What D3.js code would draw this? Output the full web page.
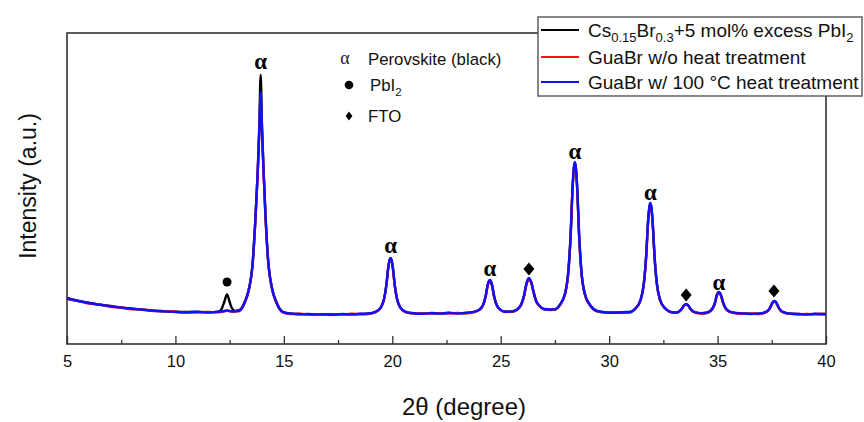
<!DOCTYPE html>
<html>
<head>
<meta charset="utf-8">
<script src="https://cdn.jsdelivr.net/npm/d3@7"></script>
<style>
  html, body { margin: 0; padding: 0; background: #fff; }
  svg { display: block; font-family: "Liberation Sans", Arial, sans-serif; }
</style>
</head>
<body>
<svg id="chart" width="864" height="422"></svg>
<script>
// ---------- DATA ----------
const twoTheta = [
  5, 5.5, 6, 6.5, 7, 7.5, 8, 8.5, 9, 9.5, 10, 10.5, 11, 11.5, 12,
  12.15, 12.25, 12.38, 12.5, 12.6, 12.75,
  12.95, 13.2, 13.4, 13.55, 13.7, 13.8, 13.87, 13.93, 13.99, 14.06, 14.15, 14.28, 14.45, 14.65, 14.95,
  15.3, 15.7, 16.1, 16.5, 16.9, 17.3, 17.7, 18.1, 18.5, 18.9,
  19.22, 19.47, 19.62, 19.72, 19.82, 19.87, 19.92, 19.97, 20.02, 20.12, 20.22, 20.37, 20.62,
  21.0, 21.4, 21.8, 22.2, 22.6, 23.0, 23.4,
  23.8, 24.05, 24.2, 24.3, 24.4, 24.45, 24.5, 24.55, 24.6, 24.7, 24.8, 24.95, 25.2,
  25.5, 25.75, 25.95, 26.08, 26.18, 26.25, 26.3, 26.35, 26.42, 26.52, 26.62, 26.78, 27.0,
  27.3, 27.55,
  27.72, 27.97, 28.12, 28.22, 28.32, 28.37, 28.42, 28.47, 28.52, 28.62, 28.72, 28.87, 29.12,
  29.45, 29.8, 30.2, 30.6, 31.0,
  31.2, 31.45, 31.6, 31.7, 31.8, 31.85, 31.9, 31.95, 32.0, 32.1, 32.2, 32.35, 32.6,
  32.9,
  33.1, 33.25, 33.35, 33.45, 33.5, 33.55, 33.6, 33.65, 33.75, 33.85, 34.0, 34.25,
  34.45, 34.66, 34.78, 34.88, 34.96, 35.01, 35.06, 35.11, 35.16, 35.26, 35.36, 35.51, 35.76,
  36.1, 36.5, 36.9,
  37.17, 37.32, 37.42, 37.52, 37.57, 37.62, 37.67, 37.72, 37.82, 37.92, 38.07, 38.32,
  38.7, 39.1, 39.5, 39.8, 40
];
const blackI = [
  462, 434, 412, 394, 380, 364, 354, 344, 334, 328, 322, 320, 320, 318, 324,
  360, 420, 495, 420, 360, 330,
  338, 422, 562, 782, 1305, 1760, 2200, 2690, 2200, 1760, 1305, 822, 562, 422, 322,
  304, 300, 298, 296, 296, 294, 298, 298, 300, 304,
  320, 365, 450, 578, 774, 836, 858, 836, 774, 578, 450, 365, 320,
  306, 304, 308, 306, 310, 308, 310,
  322, 348, 397, 472, 588, 624, 636, 624, 588, 472, 397, 348, 322,
  324, 342, 396, 485, 594, 640, 655, 643, 606, 515, 436, 382, 348,
  342, 350,
  388, 505, 728, 1068, 1588, 1750, 1810, 1750, 1588, 1068, 728, 505, 388,
  328, 316, 314, 316, 320,
  352, 440, 603, 855, 1238, 1358, 1402, 1358, 1238, 855, 603, 440, 352,
  316,
  314, 328, 350, 383, 393, 397, 393, 383, 350, 328, 314, 308,
  310, 328, 360, 410, 484, 507, 516, 507, 484, 410, 360, 328, 312,
  304, 302, 302,
  314, 332, 362, 407, 421, 426, 421, 407, 362, 332, 314, 304,
  300, 298, 300, 300, 300
];
const redI = [
  450, 432, 405, 395, 372, 365, 348, 346, 330, 328, 324, 314, 318, 320, 318,
  322, 326, 332, 328, 322, 324,
  330, 412, 552, 770, 1285, 1735, 2130, 2470, 2130, 1735, 1285, 810, 552, 414, 316,
  300, 302, 294, 298, 292, 298, 296, 302, 298, 300,
  318, 362, 445, 572, 765, 828, 850, 828, 765, 572, 445, 362, 318,
  304, 306, 306, 308, 306, 310, 308,
  320, 346, 394, 468, 582, 618, 630, 618, 582, 468, 394, 346, 320,
  322, 340, 392, 480, 588, 632, 648, 636, 600, 510, 432, 380, 346,
  340, 348,
  385, 500, 720, 1058, 1572, 1732, 1790, 1732, 1572, 1058, 720, 500, 385,
  326, 314, 316, 314, 318,
  350, 436, 598, 846, 1225, 1344, 1388, 1344, 1225, 846, 598, 436, 350,
  314,
  312, 326, 348, 380, 390, 394, 390, 380, 348, 326, 312, 306,
  308, 326, 357, 406, 480, 503, 512, 503, 480, 406, 357, 326, 310,
  302, 304, 300,
  312, 330, 360, 404, 418, 423, 418, 404, 360, 330, 312, 302,
  298, 300, 296, 302, 298
];
const blueI = [
  455, 430, 410, 392, 378, 362, 352, 342, 332, 326, 320, 318, 322, 316, 322,
  326, 330, 336, 330, 326, 328,
  335, 420, 560, 780, 1300, 1750, 2150, 2520, 2150, 1750, 1300, 820, 560, 420, 320,
  305, 298, 300, 294, 298, 292, 300, 296, 302, 305,
  322, 367, 451, 580, 776, 838, 860, 838, 776, 580, 451, 367, 322,
  308, 302, 310, 304, 312, 306, 312,
  323, 350, 399, 475, 591, 627, 640, 627, 591, 475, 399, 350, 323,
  325, 345, 400, 490, 600, 645, 660, 648, 612, 520, 440, 385, 350,
  345, 352,
  390, 509, 732, 1075, 1597, 1760, 1820, 1760, 1597, 1075, 732, 509, 390,
  330, 318, 312, 318, 322,
  354, 442, 607, 860, 1245, 1366, 1410, 1366, 1245, 860, 607, 442, 354,
  318,
  316, 331, 353, 386, 396, 400, 396, 386, 353, 331, 316, 309,
  312, 331, 363, 413, 488, 511, 520, 511, 488, 413, 363, 331, 314,
  306, 300, 304,
  316, 335, 365, 410, 425, 430, 425, 410, 365, 335, 316, 305,
  300, 296, 302, 298, 300
];

// peak markers
const markTheta = [12.38, 13.93, 19.92, 24.5, 26.3, 28.42, 31.9, 33.55, 35.06, 37.6];
const markIntensity = [620, 2810, 970, 740, 750, 1910, 1500, 490, 600, 530];
const markPhase = ["PbI2", "alpha", "alpha", "alpha", "FTO", "alpha", "alpha", "FTO", "alpha", "FTO"];

const xTicks = [5, 10, 15, 20, 25, 30, 35, 40];
const xMinorTicks = [7.5, 12.5, 17.5, 22.5, 27.5, 32.5, 37.5];

const seriesNames = ["Cs0.15Br0.3+5 mol% excess PbI2", "GuaBr w/o heat treatment", "GuaBr w/ 100 °C heat treatment"];
const seriesColors = ["#000000", "#ff1010", "#1010ff"];

// ---------- DRAWING ----------
const SANS = "Liberation Sans, Arial, sans-serif";
const SERIF = "Liberation Serif, Times New Roman, serif";
const svg = d3.select("#chart");
svg.append("rect").attr("width", 864).attr("height", 422).attr("fill", "#fff");

const L = 67, R = 826, T = 33, B = 344;
const x = d3.scaleLinear().domain([5, 40]).range([L, R]);
const y = d3.scaleLinear().domain([0, 3110]).range([B, T]);

const series = [blackI, redI, blueI];
const line = d3.line().x(d => x(d[0])).y(d => y(d[1])).curve(d3.curveMonotoneX);

series.forEach((vals, i) => {
  const pts = d3.zip(twoTheta, vals);
  svg.append("path")
    .datum(pts)
    .attr("fill", "none")
    .attr("stroke", seriesColors[i])
    .attr("stroke-width", 2.4)
    .attr("stroke-linejoin", "round")
    .attr("d", line);
});

// frame
svg.append("rect").attr("x", L).attr("y", T).attr("width", R - L).attr("height", B - T)
  .attr("fill", "none").attr("stroke", "#333").attr("stroke-width", 1.6);

// x axis (ticks inside)
const xAxis = svg.append("g").attr("transform", `translate(0,${B})`)
  .call(d3.axisBottom(x).tickValues(xTicks).tickSizeInner(-8).tickSizeOuter(0).tickPadding(11).tickFormat(d3.format("d")));
xAxis.select(".domain").remove();
xAxis.selectAll("line").attr("stroke", "#333").attr("stroke-width", 1.3);
xAxis.selectAll("text").style("font-size", "16.5px").style("font-family", SANS).attr("fill", "#111");

const xMinor = svg.append("g").attr("transform", `translate(0,${B})`)
  .call(d3.axisBottom(x).tickValues(xMinorTicks).tickSizeInner(-4).tickSizeOuter(0).tickFormat(""));
xMinor.select(".domain").remove();
xMinor.selectAll("line").attr("stroke", "#333").attr("stroke-width", 1.3);

// axis titles
svg.append("text").attr("x", 464).attr("y", 415).attr("text-anchor", "middle")
  .style("font-size", "24px").style("font-family", SANS).attr("fill", "#111").text("2θ (degree)");
svg.append("text").attr("transform", "translate(36,186) rotate(-90)").attr("text-anchor", "middle")
  .style("font-size", "23px").style("font-family", SANS).attr("fill", "#111").text("Intensity (a.u.)");

// peak markers
function diamondPath(cx, cy, hw, hh) {
  return `M${cx},${cy - hh}L${cx + hw},${cy}L${cx},${cy + hh}L${cx - hw},${cy}Z`;
}
markTheta.forEach((t, i) => {
  const cx = x(t), cy = y(markIntensity[i]);
  if (markPhase[i] === "alpha") {
    svg.append("text").attr("x", cx).attr("y", cy + 6).attr("text-anchor", "middle")
      .style("font-family", SERIF).style("font-weight", "bold").style("font-size", "23px")
      .attr("fill", "#000").text("α");
  } else if (markPhase[i] === "PbI2") {
    svg.append("circle").attr("cx", cx).attr("cy", cy).attr("r", 4.5).attr("fill", "#000");
  } else {
    svg.append("path").attr("d", diamondPath(cx, cy, 5.5, 6.5)).attr("fill", "#000");
  }
});

// in-plot phase key
const key = svg.append("g");
key.append("text").attr("x", 345).attr("y", 64).attr("text-anchor", "middle")
  .style("font-family", SERIF).style("font-size", "18px").attr("fill", "#222").text("α");
key.append("text").attr("x", 368).attr("y", 65).style("font-size", "16.8px").style("font-family", SANS)
  .attr("fill", "#111").text("Perovskite (black)");
key.append("circle").attr("cx", 349).attr("cy", 85).attr("r", 4.3).attr("fill", "#000");
const pbt = key.append("text").attr("x", 370).attr("y", 91).style("font-size", "16.8px").style("font-family", SANS).attr("fill", "#111");
pbt.append("tspan").text("PbI");
pbt.append("tspan").style("font-size", "11.5px").attr("dy", 5).text("2");
key.append("path").attr("d", diamondPath(349, 116, 3.4, 4.4)).attr("fill", "#000");
key.append("text").attr("x", 368).attr("y", 122).style("font-size", "16.8px").style("font-family", SANS)
  .attr("fill", "#111").text("FTO");

// legend
const lg = svg.append("g");
lg.append("rect").attr("x", 538).attr("y", 17).attr("width", 324).attr("height", 79)
  .attr("fill", "#fff").attr("stroke", "#555").attr("stroke-width", 1.4);
const rowY = [30, 57, 82];
seriesColors.forEach((c, i) => {
  lg.append("line").attr("x1", 541).attr("x2", 579).attr("y1", rowY[i]).attr("y2", rowY[i])
    .attr("stroke", c).attr("stroke-width", 2);
});
const t0 = lg.append("text").attr("x", 588).attr("y", rowY[0] + 7).style("font-size", "19px").style("font-family", SANS).attr("fill", "#111");
t0.append("tspan").text("Cs");
t0.append("tspan").style("font-size", "13px").attr("dy", 5).text("0.15");
t0.append("tspan").attr("dy", -5).text("Br");
t0.append("tspan").style("font-size", "13px").attr("dy", 5).text("0.3");
t0.append("tspan").attr("dy", -5).text("+5 mol% excess PbI");
t0.append("tspan").style("font-size", "13px").attr("dy", 5).text("2");
lg.append("text").attr("x", 588).attr("y", rowY[1] + 7).style("font-size", "19px").style("font-family", SANS).attr("fill", "#111").text(seriesNames[1]);
lg.append("text").attr("x", 588).attr("y", rowY[2] + 7).style("font-size", "19px").style("font-family", SANS).attr("fill", "#111").text(seriesNames[2]);
</script>
</body>
</html>
